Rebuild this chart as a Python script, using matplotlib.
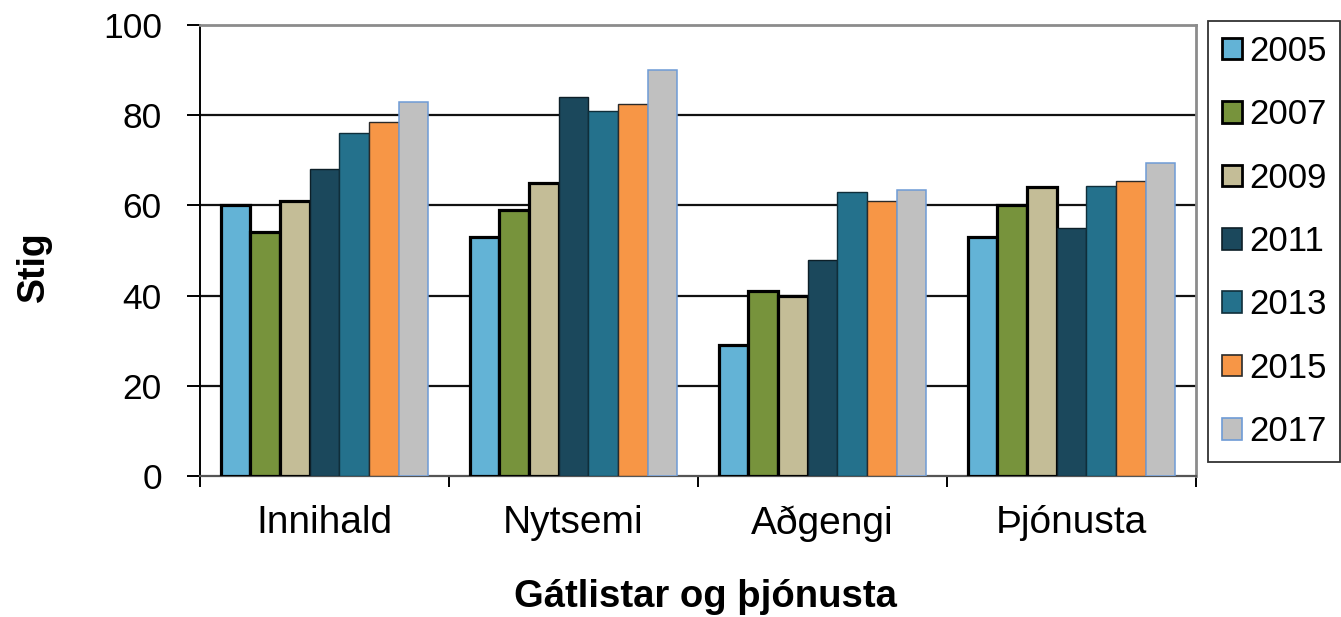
import matplotlib
matplotlib.use("Agg")
import matplotlib.pyplot as plt
import numpy as np
from matplotlib.patches import Patch

plt.rcParams['font.family'] = ['Liberation Sans', 'DejaVu Sans']

categories = ["Innihald", "Nytsemi", "Aðgengi", "Þjónusta"]
years = ["2005", "2007", "2009", "2011", "2013", "2015", "2017"]
values = {
    "2005": [60, 53, 29, 53],
    "2007": [54, 59, 41, 60],
    "2009": [61, 65, 40, 64],
    "2011": [68, 84, 48, 55],
    "2013": [76, 81, 63, 64.3],
    "2015": [78.4, 82.5, 61, 65.4],
    "2017": [83, 90, 63.4, 69.3],
}
colors = ["#63B3D6", "#77933C", "#C4BD97", "#1B485C", "#24718C", "#F79646", "#C0C0C0"]
edgecolors = ["#000000", "#000000", "#000000", "#0d1f28", "#0f2e3a", "#2a2a2a", "#6E9BD6"]
edgewidths = [2.3, 2.3, 2.3, 1.0, 1.0, 1.0, 1.1]

fig = plt.figure(figsize=(13.41, 6.17), dpi=100)
ax = fig.add_axes([200/1341, 1-476/617, (1196-200)/1341, (476-25)/617])

x = np.arange(len(categories))
w = 0.119
handles = []
for i, yr in enumerate(years):
    ax.bar(x + (i - 3) * w, values[yr], width=w, color=colors[i],
           edgecolor=edgecolors[i], linewidth=edgewidths[i], zorder=3)
    handles.append(Patch(facecolor=colors[i], edgecolor=edgecolors[i],
                         linewidth=2.0 if i < 3 else 1.2, label=yr))

ax.set_xlim(-0.5, 3.5)
ax.set_ylim(0, 100)
ax.set_yticks([0, 20, 40, 60, 80, 100])
ax.set_yticklabels(["0", "20", "40", "60", "80", "100"], fontsize=25.5)
ax.tick_params(axis='y', direction='out', length=9.5, width=1.4, pad=18, colors='black')

ax.set_xticks([-0.5, 0.5, 1.5, 2.5, 3.5])
ax.set_xticklabels([])
ax.set_xticks(x, minor=True)
ax.set_xticklabels(categories, minor=True, fontsize=28)
ax.tick_params(axis='x', which='major', direction='out', length=8, width=1.4)
ax.tick_params(axis='x', which='minor', length=0, pad=21)

for yv in [20, 40, 60, 80]:
    ax.axhline(yv, color='#111111', linewidth=1.6, zorder=1)

ax.spines['left'].set_color('black')
ax.spines['left'].set_linewidth(1.4)
ax.spines['bottom'].set_color('#555555')
ax.spines['bottom'].set_linewidth(1.6)
ax.spines['top'].set_color('#8c8c8c')
ax.spines['top'].set_linewidth(2.0)
ax.spines['right'].set_color('#8c8c8c')
ax.spines['right'].set_linewidth(2.0)

fig.text(34/1341, 1-267/617, "Stig", rotation=90, fontsize=27, fontweight='bold',
         ha='center', va='center')
fig.text(705/1341, 1-597/617, "Gátlistar og þjónusta", fontsize=27.5, fontweight='bold',
         ha='center', va='center')

leg = fig.legend(handles=handles, loc='upper left', bbox_to_anchor=(1208/1341, 1-21/617),
                 borderaxespad=0, fontsize=25, frameon=True, fancybox=False,
                 handlelength=0.58, handleheight=0.58, handletextpad=0.2,
                 labelspacing=0.875, borderpad=0.4)
leg.get_frame().set_edgecolor('black')
leg.get_frame().set_linewidth(1.3)

fig.savefig("out.png", dpi=100)
